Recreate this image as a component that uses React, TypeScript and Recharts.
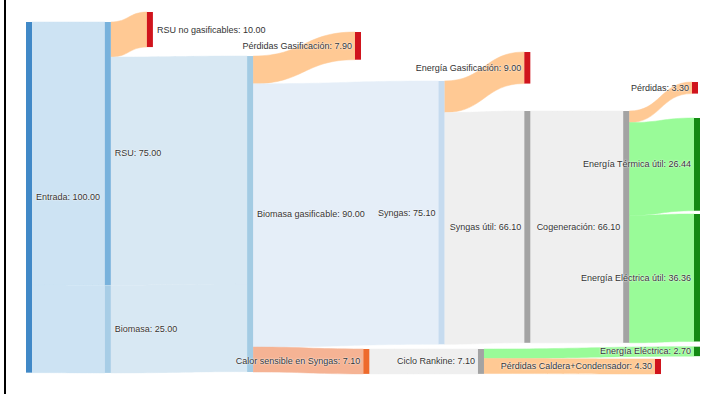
import { Sankey } from "recharts";

// Energy balance of the RSU + biomass gasification plant (percent of input)
const nodeNames = [
  "Entrada",
  "RSU",
  "Biomasa",
  "RSU no gasificables",
  "Biomasa gasificable",
  "Pérdidas Gasificación",
  "Syngas",
  "Calor sensible en Syngas",
  "Energía Gasificación",
  "Syngas útil",
  "Ciclo Rankine",
  "Cogeneración",
  "Energía Eléctrica",
  "Pérdidas Caldera+Condensador",
  "Pérdidas",
  "Energía Térmica útil",
  "Energía Eléctrica útil",
];

const flows = [
  { from: "Entrada", to: "RSU", value: 75 },
  { from: "Entrada", to: "Biomasa", value: 25 },
  { from: "RSU", to: "RSU no gasificables", value: 10 },
  { from: "RSU", to: "Biomasa gasificable", value: 65 },
  { from: "Biomasa", to: "Biomasa gasificable", value: 25 },
  { from: "Biomasa gasificable", to: "Pérdidas Gasificación", value: 7.9 },
  { from: "Biomasa gasificable", to: "Syngas", value: 75.1 },
  { from: "Biomasa gasificable", to: "Calor sensible en Syngas", value: 7.1 },
  { from: "Syngas", to: "Energía Gasificación", value: 9 },
  { from: "Syngas", to: "Syngas útil", value: 66.1 },
  { from: "Calor sensible en Syngas", to: "Ciclo Rankine", value: 7.1 },
  { from: "Syngas útil", to: "Cogeneración", value: 66.1 },
  { from: "Ciclo Rankine", to: "Energía Eléctrica", value: 2.7 },
  { from: "Ciclo Rankine", to: "Pérdidas Caldera+Condensador", value: 4.3 },
  { from: "Cogeneración", to: "Pérdidas", value: 3.3 },
  { from: "Cogeneración", to: "Energía Térmica útil", value: 26.44 },
  { from: "Cogeneración", to: "Energía Eléctrica útil", value: 36.36 },
];

// node arrangement: [column fraction, top fraction] of the plot area
const arrangement: Record<string, [number, number]> = {
  "Entrada": [0, 0],
  "RSU": [0.118, 0],
  "Biomasa": [0.118, 0.75],
  "RSU no gasificables": [0.181, -0.0285],
  "Biomasa gasificable": [0.331, 0.097],
  "Pérdidas Gasificación": [0.4925, 0.0285],
  "Syngas": [0.6175, 0.168],
  "Calor sensible en Syngas": [0.505, 0.9316],
  "Energía Gasificación": [0.746, 0.0855],
  "Syngas útil": [0.746, 0.2536],
  "Ciclo Rankine": [0.6766, 0.9316],
  "Cogeneración": [0.894, 0.2536],
  "Energía Eléctrica": [1, 0.925],
  "Pérdidas Caldera+Condensador": [0.9416, 0.96],
  "Pérdidas": [0.997, 0.171],
  "Energía Térmica útil": [1, 0.2735],
  "Energía Eléctrica útil": [1, 0.547],
};

const RED = "#d0141c";
const GRAY = "#a3a3a3";
const GREEN = "#138a13";
const nodeColors: Record<string, string> = {
  "Entrada": "#4189c7",
  "RSU": "#78b2dc",
  "Biomasa": "#a7cde6",
  "RSU no gasificables": RED,
  "Biomasa gasificable": "#a3cbe3",
  "Pérdidas Gasificación": RED,
  "Syngas": "#c6dbef",
  "Calor sensible en Syngas": "#ee6a2c",
  "Energía Gasificación": RED,
  "Syngas útil": GRAY,
  "Ciclo Rankine": GRAY,
  "Cogeneración": GRAY,
  "Energía Eléctrica": GREEN,
  "Pérdidas Caldera+Condensador": RED,
  "Pérdidas": RED,
  "Energía Térmica útil": GREEN,
  "Energía Eléctrica útil": GREEN,
};

const PEACH = "#ffc994";
const LIGHTGRAY = "#efefef";
const LIGHTGREEN = "#99fb98";
const linkColor = (from: string, to: string) => {
  if (nodeColors[to] === RED) return PEACH;
  if (nodeColors[to] === GREEN) return LIGHTGREEN;
  if (to === "Calor sensible en Syngas") return "#f5b394";
  if (from === "Entrada") return "#cde3f3";
  if (to === "Biomasa gasificable") return "#d8e8f3";
  if (to === "Syngas") return "#e5eef8";
  return LIGHTGRAY;
};

const W = 714;
const H = 394;
const M = { top: 22, right: 14, bottom: 21, left: 26 };
const NODE_W = 6;
const PW = W - M.left - M.right;
const PH = H - M.top - M.bottom;

const nodeLeft = (name: string) => M.left + arrangement[name][0] * (PW - NODE_W);
const nodeTop = (name: string) => M.top + arrangement[name][1] * PH;

const sum = (list: typeof flows) => list.reduce((s, f) => s + f.value, 0);
const nodeLabelValue = (name: string) => {
  const incoming = flows.filter((f) => f.to === name);
  return incoming.length ? sum(incoming) : sum(flows.filter((f) => f.from === name));
};

function FlowNode(props: any) {
  const { height, payload } = props;
  const name: string = payload.name;
  const x = nodeLeft(name);
  const y = nodeTop(name);
  const onRight = arrangement[name][0] < 0.4;
  return (
    <g>
      <rect x={x} y={y} width={NODE_W} height={height} fill={nodeColors[name]} />
      <text
        x={onRight ? x + NODE_W + 4 : x - 3}
        y={y + height / 2}
        textAnchor={onRight ? "start" : "end"}
        dominantBaseline="central"
        fontFamily="'Liberation Sans', Arial, sans-serif"
        fontSize={9}
        fill="#333"
        style={{ textShadow: "0 0 2px #fff, 0 0 1px #fff" }}
      >
        {`${name}: ${nodeLabelValue(name).toFixed(2)}`}
      </text>
    </g>
  );
}

function FlowLink(props: any) {
  const { linkWidth, payload } = props;
  const from: string = payload.source.name;
  const to: string = payload.target.name;
  const idx = flows.findIndex((f) => f.from === from && f.to === to);
  const ky = linkWidth / flows[idx].value;
  const before = flows.slice(0, idx);
  const srcOff = sum(before.filter((f) => f.from === from)) * ky;
  const tgtOff = sum(before.filter((f) => f.to === to)) * ky;
  const x0 = nodeLeft(from) + NODE_W;
  const x1 = nodeLeft(to);
  const y0 = nodeTop(from) + srcOff;
  const y1 = nodeTop(to) + tgtOff;
  const xm = (x0 + x1) / 2;
  const d = `M${x0},${y0} C${xm},${y0} ${xm},${y1} ${x1},${y1} L${x1},${y1 + linkWidth} C${xm},${y1 + linkWidth} ${xm},${y0 + linkWidth} ${x0},${y0 + linkWidth} Z`;
  const color = linkColor(from, to);
  return <path d={d} fill={color} stroke={color} strokeWidth={0.5} />;
}

export default function App() {
  const data = {
    nodes: nodeNames.map((name) => ({ name })),
    links: flows.map((f) => ({
      source: nodeNames.indexOf(f.from),
      target: nodeNames.indexOf(f.to),
      value: f.value,
    })),
  };

  return (
    <div style={{ position: "fixed", left: 0, top: 0, width: W, height: H, background: "#fff" }}>
      <div style={{ position: "absolute", left: 4, top: 0, width: 2, height: H, background: "#000" }} />
      <Sankey
        width={W}
        height={H}
        data={data}
        margin={M}
        nodeWidth={NODE_W}
        nodePadding={0}
        iterations={0}
        align="left"
        sort={false}
        node={(p: any) => <FlowNode {...p} />}
        link={(p: any) => <FlowLink {...p} />}
      />
    </div>
  );
}
